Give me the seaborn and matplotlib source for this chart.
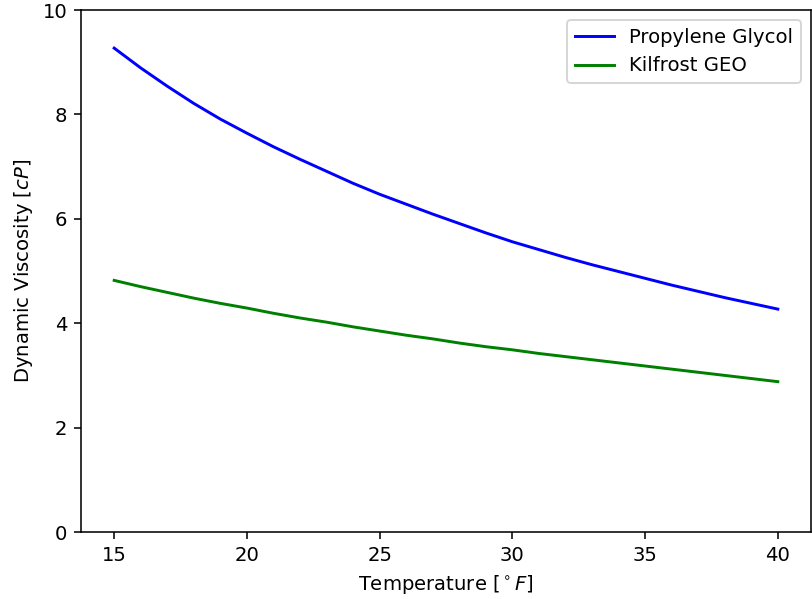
import matplotlib
matplotlib.use("Agg")
import matplotlib.pyplot as plt
import seaborn as sns
import pandas as pd

temperature = list(range(15, 41))
propylene_glycol = [9.27, 8.89, 8.54, 8.21, 7.91, 7.64, 7.38, 7.14, 6.91, 6.68,
                    6.47, 6.28, 6.09, 5.91, 5.73, 5.56, 5.41, 5.26, 5.12, 4.99,
                    4.86, 4.73, 4.61, 4.49, 4.38, 4.27]
kilfrost_geo = [4.82, 4.70, 4.59, 4.48, 4.38, 4.29, 4.19, 4.10, 4.02, 3.93,
                3.85, 3.77, 3.70, 3.62, 3.55, 3.49, 3.42, 3.36, 3.30, 3.24,
                3.18, 3.12, 3.06, 3.00, 2.94, 2.88]
series_names = ["Propylene Glycol", "Kilfrost GEO"]
colors = ["blue", "green"]

df = pd.concat([
    pd.DataFrame({"T": temperature, "mu": propylene_glycol, "fluid": series_names[0]}),
    pd.DataFrame({"T": temperature, "mu": kilfrost_geo, "fluid": series_names[1]}),
])

dpi = 141
fig = plt.figure(figsize=(812 / dpi, 599 / dpi), dpi=dpi)
ax = fig.add_axes([81 / 812, 1 - 532 / 599, (811 - 81) / 812, (532 - 10) / 599])
sns.lineplot(data=df, x="T", y="mu", hue="fluid", palette=colors, ax=ax, linewidth=1.5)
ax.set_ylim(0, 10)
ax.set_xlabel(r"Temperature [$^\circ F$]")
ax.set_ylabel(r"Dynamic Viscosity [$cP$]")
ax.legend(loc="upper right", title=None)
fig.savefig("out.png", dpi=dpi)
